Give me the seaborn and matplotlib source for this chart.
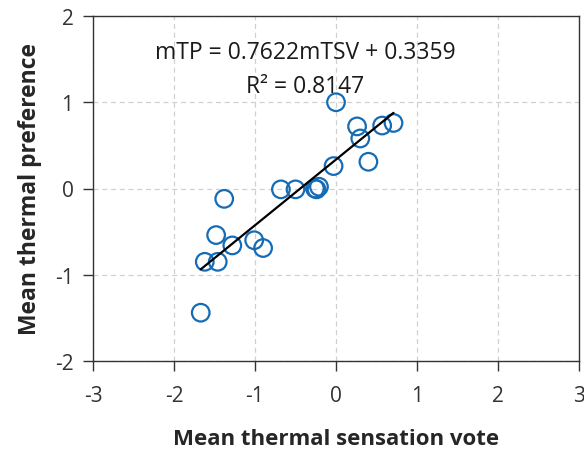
import numpy as np
import pandas as pd
import matplotlib
matplotlib.use("Agg")
import matplotlib.pyplot as plt
import seaborn as sns

# Mean thermal sensation vote vs mean thermal preference
mtsv = [0.00, 0.26, 0.30, 0.57, 0.71, 0.40, -0.03, -0.68, -0.50, -0.26, -0.21, -0.24,
        -1.38, -1.48, -1.28, -1.01, -0.90, -1.62, -1.46, -1.67]
mtp = [1.00, 0.72, 0.58, 0.73, 0.76, 0.31, 0.26, -0.01, -0.01, 0.00, 0.02, -0.01,
       -0.12, -0.54, -0.66, -0.60, -0.69, -0.85, -0.85, -1.44]

slope = 0.7622
intercept = 0.3359
r2 = 0.8147

df = pd.DataFrame({"mTSV": mtsv, "mTP": mtp})

sns.set_style("ticks")
plt.rcParams["font.family"] = ["Open Sans", "DejaVu Sans"]
plt.rcParams["axes.unicode_minus"] = False

fig = plt.figure(figsize=(5.84, 4.52), dpi=100)
ax = fig.add_axes([93 / 584, 1 - 362 / 452, (579 - 93) / 584, (362 - 17) / 452])

sns.scatterplot(data=df, x="mTSV", y="mTP", ax=ax, s=160, marker="o",
                facecolor="none", edgecolor="#156cb5", linewidth=1.6, zorder=3)

# Linear fit line across the range of the data
fx = np.array([min(mtsv), max(mtsv)])
sns.lineplot(x=fx, y=slope * fx + intercept, ax=ax, color="black", linewidth=1.6, zorder=4)

ax.text(-0.38, 1.58, f"mTP = {slope}mTSV + {intercept}", ha="center", va="center",
        fontsize=16.5, color="#1a1a1a")
ax.text(-0.38, 1.19, f"R² = {r2}", ha="center", va="center", fontsize=16.5, color="#1a1a1a")

ax.set_xlim(-3, 3)
ax.set_ylim(-2, 2)
ax.set_xticks(range(-3, 4))
ax.set_yticks(range(-2, 3))
ax.grid(True, linestyle=(0, (4, 3)), color="#d0d0d0", linewidth=0.9)
ax.set_axisbelow(True)
for sp in ax.spines.values():
    sp.set_visible(True)
    sp.set_color("#333333")
    sp.set_linewidth(1.0)
ax.tick_params(axis="both", direction="out", length=7, width=1, labelsize=15,
               colors="#333333")
ax.tick_params(axis="x", pad=10)
ax.tick_params(axis="y", pad=7)
ax.set_xlabel("Mean thermal sensation vote", fontsize=16, fontweight="bold", labelpad=16)
ax.set_ylabel("Mean thermal preference", fontsize=16.5, fontweight="bold", labelpad=9)

fig.savefig("out.png", dpi=100)
